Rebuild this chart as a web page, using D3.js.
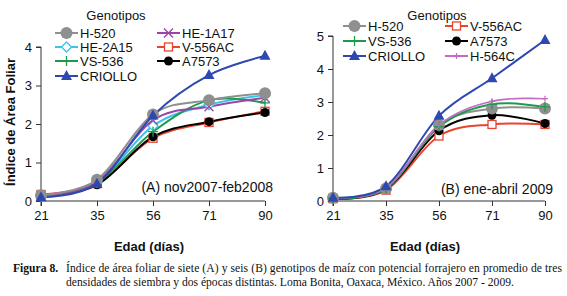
<!DOCTYPE html>
<html lang="es">
<head>
<meta charset="UTF-8">
<title>Índice de área foliar</title>
<script src="https://d3js.org/d3.v7.min.js"></script>
<style>
  body { margin: 0; background: #fff; }
  svg { display: block; }
  text { font-family: Arial, "Liberation Sans", sans-serif; fill: #111; }
  .cap { font-family: "Liberation Serif", "Times New Roman", serif; font-size: 11.6px; }
</style>
</head>
<body>
<svg></svg>
<script>
const width = 567, height = 296;

// edades (días) y series
const ages = ["21", "35", "56", "71", "90"];

const namesA = ["H-520", "HE-1A17", "HE-2A15", "V-556AC", "VS-536", "A7573", "CRIOLLO"];
const h520A    = [0.15, 0.55, 2.25, 2.62, 2.80];
const he1a17A  = [0.13, 0.50, 2.10, 2.45, 2.68];
const he2a15A  = [0.13, 0.48, 1.95, 2.50, 2.75];
const v556acA  = [0.17, 0.45, 1.63, 2.04, 2.33];
const vs536A   = [0.12, 0.48, 1.80, 2.62, 2.55];
const a7573A   = [0.12, 0.42, 1.67, 2.06, 2.30];
const criolloA = [0.10, 0.45, 2.22, 3.27, 3.77];

const namesB = ["H-520", "V-556AC", "VS-536", "A7573", "CRIOLLO", "H-564C"];
const h520B    = [0.10, 0.38, 2.30, 2.80, 2.80];
const v556acB  = [0.07, 0.33, 1.97, 2.32, 2.32];
const vs536B   = [0.08, 0.38, 2.25, 2.93, 2.85];
const a7573B   = [0.07, 0.36, 2.13, 2.60, 2.35];
const criolloB = [0.10, 0.45, 2.58, 3.72, 4.88];
const h564cB   = [0.10, 0.40, 2.30, 3.02, 3.10];

const yTicksA = [0, 1, 2, 3, 4];
const yTicksB = [0, 1, 2, 3, 4, 5];

const style = {
  "H-520":   {color: "#8f8f8f", mark: "bigcircle"},
  "HE-1A17": {color: "#9a44a8", mark: "x"},
  "HE-2A15": {color: "#3cc4e6", mark: "diamond"},
  "V-556AC": {color: "#e8442e", mark: "square"},
  "VS-536":  {color: "#1e9a4c", mark: "plus"},
  "A7573":   {color: "#000000", mark: "circle"},
  "CRIOLLO": {color: "#2f48b0", mark: "triangle"},
  "H-564C":  {color: "#c46cc4", mark: "smallplus"}
};

const svg = d3.select("svg").attr("width", width).attr("height", height);

function marker(g, type, color, x, y) {
  if (type === "bigcircle") {
    g.append("circle").attr("cx", x).attr("cy", y).attr("r", 6).attr("fill", color);
  } else if (type === "circle") {
    g.append("circle").attr("cx", x).attr("cy", y).attr("r", 4.5).attr("fill", color);
  } else if (type === "triangle") {
    g.append("path").attr("d", `M${x},${y-6}L${x+5.5},${y+4}L${x-5.5},${y+4}Z`).attr("fill", color);
  } else if (type === "square") {
    g.append("rect").attr("x", x-4).attr("y", y-4).attr("width", 8).attr("height", 8)
      .attr("fill", "#fff").attr("stroke", color).attr("stroke-width", 1.3);
  } else if (type === "diamond") {
    g.append("path").attr("d", `M${x},${y-5}L${x+5},${y}L${x},${y+5}L${x-5},${y}Z`)
      .attr("fill", "#fff").attr("stroke", color).attr("stroke-width", 1.3);
  } else if (type === "x") {
    g.append("path").attr("d", `M${x-4.5},${y-4.5}L${x+4.5},${y+4.5}M${x-4.5},${y+4.5}L${x+4.5},${y-4.5}`)
      .attr("stroke", color).attr("stroke-width", 1.3);
  } else if (type === "plus") {
    g.append("path").attr("d", `M${x-5},${y}L${x+5},${y}M${x},${y-5}L${x},${y+5}`)
      .attr("stroke", color).attr("stroke-width", 1.3);
  } else if (type === "smallplus") {
    g.append("path").attr("d", `M${x-3},${y}L${x+3},${y}M${x},${y-3}L${x},${y+3}`)
      .attr("stroke", color).attr("stroke-width", 1.2);
  }
}

function panel(opt) {
  const x = d3.scalePoint().domain(ages).range([opt.x0, opt.x1]);
  const y = d3.scaleLinear().domain([0, opt.ymax]).range([201, opt.ytop]);
  const g = svg.append("g");

  // ejes
  const ya = g.append("g").attr("transform", `translate(${opt.x0},0)`)
    .call(d3.axisLeft(y).tickValues(opt.yTicks).tickFormat(d3.format("d")).tickSize(5).tickPadding(4));
  const xa = g.append("g").attr("transform", `translate(0,201)`)
    .call(d3.axisBottom(x).tickSize(5).tickPadding(5));
  [ya, xa].forEach(a => {
    a.select(".domain").attr("stroke", "#333").attr("stroke-width", 1);
    a.selectAll(".tick line").attr("stroke", "#333");
    a.selectAll("text").attr("font-size", 13).attr("font-family", "Arial, 'Liberation Sans', sans-serif").attr("fill", "#111");
  });
  ya.select(".domain").attr("d", `M-5,${opt.ytop}H0V201`);
  xa.select(".domain").attr("d", `M${opt.x0},5V0H${opt.x1}`);

  const line = d3.line().x((d, i) => x(ages[i])).y(d => y(d)).curve(d3.curveCardinal.tension(0));

  opt.order.forEach(name => {
    const s = style[name];
    const vals = opt.series[name];
    g.append("path").attr("d", line(vals)).attr("fill", "none")
      .attr("stroke", s.color).attr("stroke-width", name === "H-564C" ? 1.6 : 2);
  });
  opt.order.forEach(name => {
    const s = style[name];
    opt.series[name].forEach((v, i) => marker(g, s.mark, s.color, x(ages[i]), y(v)));
  });

  // leyenda
  g.append("text").attr("x", opt.legTitle[0]).attr("y", opt.legTitle[1]).attr("text-anchor", "middle")
    .attr("font-size", 13).text("Genotipos");
  opt.legend.forEach(([name, lx, ly]) => {
    const s = style[name];
    g.append("line").attr("x1", lx).attr("x2", lx + 23).attr("y1", ly).attr("y2", ly)
      .attr("stroke", s.color).attr("stroke-width", 2);
    marker(g, s.mark, s.color, lx + 11.5, ly);
    g.append("text").attr("x", lx + 25).attr("y", ly + 4.7).attr("font-size", 13).text(name);
  });

  g.append("text").attr("x", opt.tag[0]).attr("y", opt.tag[1]).attr("text-anchor", "end")
    .attr("font-size", 14).text(opt.tagText);

  g.append("text").attr("x", opt.xTitle).attr("y", 251).attr("text-anchor", "middle")
    .attr("font-size", 13).attr("font-weight", "bold").text("Edad (días)");
}

panel({
  x0: 41, x1: 265, ymax: 4, ytop: 47, yTicks: yTicksA,
  series: {"H-520": h520A, "HE-1A17": he1a17A, "HE-2A15": he2a15A, "V-556AC": v556acA,
           "VS-536": vs536A, "A7573": a7573A, "CRIOLLO": criolloA},
  order: ["V-556AC", "A7573", "HE-2A15", "VS-536", "HE-1A17", "H-520", "CRIOLLO"],
  legTitle: [116, 20],
  legend: [["H-520", 55, 33], ["HE-1A17", 157, 33], ["HE-2A15", 55, 47], ["V-556AC", 157, 47],
           ["VS-536", 55, 61], ["A7573", 157, 61], ["CRIOLLO", 55, 76]],
  tag: [273, 192], tagText: "(A) nov2007-feb2008",
  xTitle: 149
});

panel({
  x0: 333, x1: 545, ymax: 5, ytop: 36, yTicks: yTicksB,
  series: {"H-520": h520B, "V-556AC": v556acB, "VS-536": vs536B, "A7573": a7573B,
           "CRIOLLO": criolloB, "H-564C": h564cB},
  order: ["V-556AC", "A7573", "H-520", "VS-536", "H-564C", "CRIOLLO"],
  legTitle: [437, 20],
  legend: [["H-520", 343, 26], ["V-556AC", 445, 26], ["VS-536", 343, 41], ["A7573", 445, 41],
           ["CRIOLLO", 343, 56], ["H-564C", 445, 56]],
  tag: [553, 194], tagText: "(B) ene-abril 2009",
  xTitle: 425
});

// título eje Y
svg.append("text").attr("transform", "translate(15,122) rotate(-90)").attr("text-anchor", "middle")
  .attr("font-size", 13).attr("font-weight", "bold").text("Índice de Área Foliar");

// pie de figura
svg.append("text").attr("class", "cap").attr("x", 13).attr("y", 272).attr("font-weight", "bold").text("Figura 8.");
svg.append("text").attr("class", "cap").attr("x", 66).attr("y", 272)
  .attr("textLength", 496).attr("lengthAdjust", "spacing")
  .text("Índice de área foliar de siete (A) y seis (B) genotipos de maíz con potencial forrajero en promedio de tres");
svg.append("text").attr("class", "cap").attr("x", 66).attr("y", 286)
  .text("densidades de siembra y dos épocas distintas. Loma Bonita, Oaxaca, México. Años 2007 - 2009.");
</script>
</body>
</html>
